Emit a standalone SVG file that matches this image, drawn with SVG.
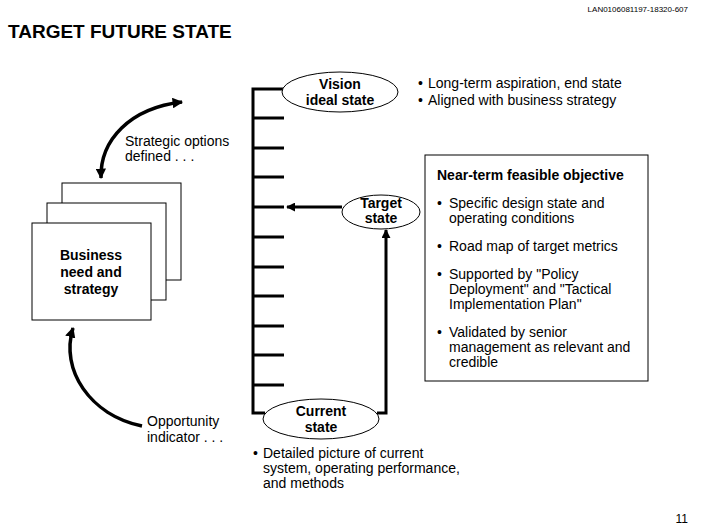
<svg xmlns="http://www.w3.org/2000/svg" width="706" height="529" viewBox="0 0 706 529">
<defs>
<marker id="ah" viewBox="0 0 10 10" refX="9" refY="5" markerWidth="3" markerHeight="3" orient="auto-start-reverse" markerUnits="strokeWidth">
<path d="M0,0 L10,5 L0,10 z" fill="#000"/>
</marker>
<marker id="ahs" viewBox="0 0 10 10" refX="9" refY="5" markerWidth="4" markerHeight="4" orient="auto-start-reverse" markerUnits="strokeWidth">
<path d="M0,0 L10,5 L0,10 z" fill="#000"/>
</marker>
</defs>
<style>
text{font-family:"Liberation Sans",Arial,sans-serif;font-size:14px;fill:#000}
.b{font-weight:bold}
.c{text-anchor:middle}
.node{fill:#fff;stroke:#000;stroke-width:1}
.thick{fill:none;stroke:#000;stroke-width:3}
.curve{fill:none;stroke:#000;stroke-width:3.5}
</style>
<rect width="706" height="529" fill="#fff"/>
<text x="688" y="12" style="font-size:8px;text-anchor:end">LAN0106081197-18320-607</text>
<text x="8" y="38" class="b" style="font-size:19px">TARGET FUTURE STATE</text>
<text x="688" y="523" style="font-size:12px;text-anchor:end">11</text>

<g id="connectors">
<path class="thick" d="M285,89 H253 V413 H265"/>
<path class="thick" d="M253,118 H284 M253,148 H284 M253,177 H284 M253,237 H284 M253,267 H284 M253,296 H284 M253,326 H284 M253,355 H284 M253,385 H284"/>
<path class="thick" d="M253,207 H284"/>
<path class="thick" d="M342,207 H287" marker-end="url(#ah)"/>
<path class="thick" d="M377,413 H386 V230" marker-end="url(#ah)"/>
<path class="curve" d="M101,178 C100,140 130,108 182,102" marker-start="url(#ah)" marker-end="url(#ah)"/>
<path class="curve" d="M142,426 C90,415 60,370 73,328" marker-end="url(#ah)"/>
</g>

<g id="vision">
<ellipse class="node" cx="340" cy="92" rx="58" ry="20"/>
<text x="340" y="89" class="b c">Vision</text>
<text x="340" y="105" class="b c">ideal state</text>
</g>
<g id="vision-notes">
<text x="418" y="88">•</text><text x="428" y="88">Long-term aspiration, end state</text>
<text x="418" y="105">•</text><text x="428" y="105">Aligned with business strategy</text>
</g>

<g id="target">
<ellipse class="node" cx="381" cy="212" rx="39" ry="17"/>
<text x="381" y="208" class="b c">Target</text>
<text x="381" y="223" class="b c">state</text>
</g>

<g id="current">
<ellipse class="node" cx="321" cy="419" rx="58" ry="20"/>
<text x="321" y="416" class="b c">Current</text>
<text x="321" y="432" class="b c">state</text>
</g>
<g id="current-notes">
<text x="253" y="458">•</text><text x="263" y="458">Detailed picture of current</text>
<text x="263" y="473">system, operating performance,</text>
<text x="263" y="488">and methods</text>
</g>

<g id="objective">
<rect class="node" x="425" y="155" width="223" height="226"/>
<text x="437" y="180" class="b">Near-term feasible objective</text>
<text x="437" y="208">•</text><text x="449" y="208">Specific design state and</text>
<text x="449" y="223">operating conditions</text>
<text x="437" y="251">•</text><text x="449" y="251">Road map of target metrics</text>
<text x="437" y="279">•</text><text x="449" y="279">Supported by "Policy</text>
<text x="449" y="294">Deployment" and "Tactical</text>
<text x="449" y="309">Implementation Plan"</text>
<text x="437" y="337">•</text><text x="449" y="337">Validated by senior</text>
<text x="449" y="352">management as relevant and</text>
<text x="449" y="367">credible</text>
</g>

<g id="business">
<rect class="node" x="62" y="183" width="119" height="97"/>
<rect class="node" x="47" y="203" width="119" height="97"/>
<rect class="node" x="32" y="223" width="119" height="97"/>
<text x="91" y="260" class="b c">Business</text>
<text x="91" y="277" class="b c">need and</text>
<text x="91" y="294" class="b c">strategy</text>
</g>

<g id="labels">
<text x="125" y="146">Strategic options</text>
<text x="125" y="161">defined . . .</text>
<text x="147" y="426">Opportunity</text>
<text x="147" y="442">indicator . . .</text>
</g>
</svg>
